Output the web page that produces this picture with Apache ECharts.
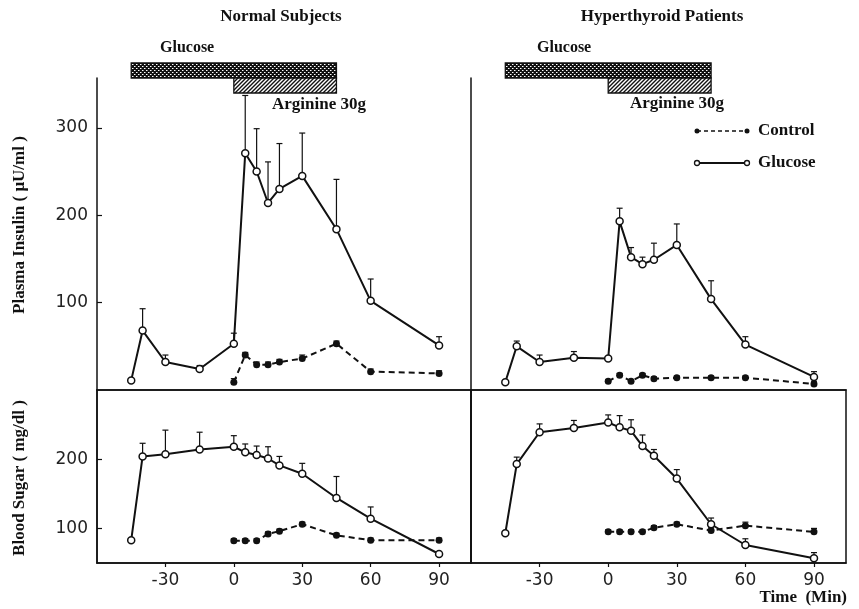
<!DOCTYPE html>
<html><head><meta charset="utf-8">
<script src="https://cdn.jsdelivr.net/npm/echarts@6/dist/echarts.min.js"></script>
<style>html,body{margin:0;padding:0;background:#fff}#c{width:859px;height:609px}</style>
</head><body><div id="c"></div>
<script>
// ---- data ----
const timeGlucose = [-45, -40, -30, -15, 0, 5, 10, 15, 20, 30, 45, 60, 90];
const timeControl = [0, 5, 10, 15, 20, 30, 45, 60, 90];
const xTickValues = [-30, 0, 30, 60, 90];
const insulinTicks = [100, 200, 300];
const sugarTicks = [100, 200];
const glucoseInfusion = [-45, 45];
const arginineInfusion = [0, 45];

// Plasma insulin, normal subjects
const insNormGlu = [11, 68, 32, 24, 53, 271, 250, 214, 230, 245, 184, 102, 51];
const insNormGluSE = [0, 25, 8, 4, 12, 66, 49, 47, 52, 49, 57, 25, 10];
const insNormCtl = [9, 40, 29, 29, 32, 36, 53, 21, 19];
const insNormCtlSE = [4, 3, 3, 3, 3, 4, 3, 3, 3];
// Plasma insulin, hyperthyroid patients
const insHypGlu = [9, 50, 32, 37, 36, 193, 152, 144, 149, 166, 104, 52, 15];
const insHypGluSE = [0, 6, 8, 7, 0, 15, 11, 8, 19, 24, 21, 9, 6];
const insHypCtl = [10, 17, 10, 17, 13, 14, 14, 14, 7];
const insHypCtlSE = [2, 2, 2, 2, 2, 2, 2, 2, 3];
// Blood sugar, normal subjects
const bsNormGlu = [83, 204, 207, 214, 218, 210, 206, 201, 191, 179, 144, 114, 63];
const bsNormGluSE = [0, 19, 35, 25, 16, 12, 13, 17, 13, 15, 31, 17, 0];
const bsNormCtl = [82, 82, 82, 92, 96, 106, 90, 83, 83];
const bsNormCtlSE = [3, 3, 3, 3, 3, 3, 3, 3, 3];
// Blood sugar, hyperthyroid patients
const bsHypGlu = [93, 193, 239, 245, 253, 246, 241, 219, 205, 172, 106, 76, 57];
const bsHypGluSE = [0, 10, 12, 11, 11, 17, 16, 16, 9, 13, 9, 9, 8];
const bsHypCtl = [95, 95, 95, 95, 101, 106, 97, 104, 95];
const bsHypCtlSE = [3, 3, 3, 3, 3, 3, 4, 5, 5];

// ---- helpers ----
const INK = '#111';
const SERIF = '"Liberation Serif", "DejaVu Serif", serif';
const SANS = '"DejaVu Sans", sans-serif';

function mkPattern(kind) {
  const s = 4;
  const c = document.createElement('canvas');
  c.width = s; c.height = s;
  const g = c.getContext('2d');
  if (kind === 'cross') {
    g.fillStyle = INK; g.fillRect(0, 0, s, s);
    g.fillStyle = '#fff';
    g.fillRect(0, 0, 1, 1);
    g.fillRect(2, 2, 1, 1);
    g.fillStyle = '#888';
    g.fillRect(1, 0, 1, 1);
    g.fillRect(3, 2, 1, 1);
  } else {
    g.fillStyle = '#fff'; g.fillRect(0, 0, s, s);
    g.strokeStyle = INK; g.lineWidth = 1.4;
    g.beginPath();
    g.moveTo(-1, s + 1); g.lineTo(s + 1, -1);
    g.moveTo(-1, 1); g.lineTo(1, -1);
    g.moveTo(s - 1, s + 1); g.lineTo(s + 1, s - 1);
    g.stroke();
  }
  return { image: c, repeat: 'repeat' };
}
const crossPat = mkPattern('cross');
const hatchPat = mkPattern('hatch');

function zip(t, v) { return t.map((x, i) => [x, v[i]]); }
function zip3(t, v, e) { return t.map((x, i) => [x, v[i], e[i]]); }

function errRender(params, api) {
  const t = api.value(0), v = api.value(1), e = api.value(2);
  if (!e) return { type: 'group', children: [] };
  const p0 = api.coord([t, v]);
  const p1 = api.coord([t, v + e]);
  return {
    type: 'group', children: [
      { type: 'line', shape: { x1: p0[0], y1: p0[1], x2: p1[0], y2: p1[1] }, style: { stroke: INK, lineWidth: 1.2 } },
      { type: 'line', shape: { x1: p1[0] - 3, y1: p1[1], x2: p1[0] + 3, y2: p1[1] }, style: { stroke: INK, lineWidth: 1.2 } }
    ]
  };
}

function infusionRender(params, api) {
  const cs = params.coordSys;
  const x0 = api.coord([api.value(0), 0])[0];
  const x1 = api.coord([api.value(1), 0])[0];
  const k = api.value(2);
  const y = k === 0 ? cs.y - 15 : cs.y;
  return {
    type: 'rect',
    shape: { x: x0, y: y, width: x1 - x0, height: 15 },
    style: { fill: k === 0 ? crossPat : hatchPat, stroke: INK, lineWidth: 1.3 }
  };
}

function panelSeries(idx, glu, gluSE, ctl, ctlSE) {
  return [
    { type: 'custom', xAxisIndex: idx, yAxisIndex: idx, renderItem: errRender, data: zip3(timeGlucose, glu, gluSE), encode: { x: 0, y: 1 }, z: 1, clip: false, silent: true },
    { type: 'custom', xAxisIndex: idx, yAxisIndex: idx, renderItem: errRender, data: zip3(timeControl, ctl, ctlSE), encode: { x: 0, y: 1 }, z: 1, clip: false, silent: true },
    { type: 'line', xAxisIndex: idx, yAxisIndex: idx, data: zip(timeControl, ctl), symbol: 'circle', symbolSize: 7,
      lineStyle: { color: INK, width: 2, type: [6, 4] }, itemStyle: { color: INK }, z: 2, animation: false },
    { type: 'line', xAxisIndex: idx, yAxisIndex: idx, data: zip(timeGlucose, glu), symbol: 'circle', symbolSize: 7,
      lineStyle: { color: INK, width: 2 }, itemStyle: { color: '#fff', borderColor: INK, borderWidth: 1.5 }, z: 3, animation: false }
  ];
}

const gridsDef = [
  { left: 97, top: 78, width: 374, height: 312 },
  { left: 471, top: 78, width: 375, height: 312 },
  { left: 97, top: 390, width: 374, height: 173 },
  { left: 471, top: 390, width: 375, height: 173 }
];

function xAxis(i) {
  const bottom = i >= 2;
  return {
    type: 'value', gridIndex: i, min: -60, max: 104, interval: 30,
    splitLine: { show: false },
    axisLine: { show: true, onZero: false, lineStyle: { color: INK, width: 1.5 } },
    axisTick: { show: bottom, inside: false, length: 4, customValues: xTickValues, lineStyle: { color: INK, width: 1.2 } },
    axisLabel: { show: bottom, customValues: xTickValues, margin: 9, fontFamily: SANS, fontSize: 17, color: '#222',
      formatter: v => (v < 0 ? '-' + Math.abs(v) : String(v)) }
  };
}
function yAxis(i) {
  const top = i < 2;
  const left = i % 2 === 0;
  const ticks = top ? insulinTicks : sugarTicks;
  return {
    type: 'value', gridIndex: i,
    min: top ? 0 : 50, max: top ? 357 : 300, interval: 50,
    splitLine: { show: false },
    axisLine: { show: true, onZero: false, lineStyle: { color: INK, width: 1.5 } },
    axisTick: { show: left, inside: true, length: 5, customValues: ticks, lineStyle: { color: INK, width: 1.2 } },
    axisLabel: { show: left, customValues: ticks, margin: 9, fontFamily: SANS, fontSize: 17, color: '#222' }
  };
}

const txt = (x, y, text, size, align, extra) => Object.assign({
  type: 'text', x: x, y: y, silent: true,
  style: { text: text, font: 'bold ' + size + 'px ' + SERIF, fill: INK, align: align || 'left', verticalAlign: 'middle' }
}, extra || {});

const option = {
  animation: false,
  backgroundColor: '#fff',
  grid: gridsDef.map((g, i) => Object.assign({}, g, i >= 2 ? { show: true, borderColor: INK, borderWidth: 1.5 } : { show: false })),
  xAxis: [0, 1, 2, 3].map(xAxis),
  yAxis: [0, 1, 2, 3].map(yAxis),
  series: [].concat(
    [
      { type: 'custom', xAxisIndex: 0, yAxisIndex: 0, renderItem: infusionRender, clip: false, silent: true, encode: { x: [0, 1] },
        data: [[glucoseInfusion[0], glucoseInfusion[1], 0], [arginineInfusion[0], arginineInfusion[1], 1]] },
      { type: 'custom', xAxisIndex: 1, yAxisIndex: 1, renderItem: infusionRender, clip: false, silent: true, encode: { x: [0, 1] },
        data: [[glucoseInfusion[0], glucoseInfusion[1], 0], [arginineInfusion[0], arginineInfusion[1], 1]] }
    ],
    panelSeries(0, insNormGlu, insNormGluSE, insNormCtl, insNormCtlSE),
    panelSeries(1, insHypGlu, insHypGluSE, insHypCtl, insHypCtlSE),
    panelSeries(2, bsNormGlu, bsNormGluSE, bsNormCtl, bsNormCtlSE),
    panelSeries(3, bsHypGlu, bsHypGluSE, bsHypCtl, bsHypCtlSE)
  ),
  graphic: [
    txt(281, 17, 'Normal Subjects', 17, 'center'),
    txt(662, 17, 'Hyperthyroid Patients', 17, 'center'),
    txt(160, 48, 'Glucose', 16),
    txt(537, 48, 'Glucose', 16),
    txt(272, 105, 'Arginine 30g', 17),
    txt(630, 104, 'Arginine 30g', 17),
    txt(20, 225, 'Plasma Insulin ( μU/ml )', 17, 'center', { rotation: Math.PI / 2 }),
    txt(20, 478, 'Blood Sugar ( mg/dl )', 17, 'center', { rotation: Math.PI / 2 }),
    txt(847, 598, 'Time  (Min)', 17, 'right'),
    // legend
    { type: 'line', silent: true, shape: { x1: 697, y1: 131, x2: 747, y2: 131 }, style: { stroke: INK, lineWidth: 1.5, lineDash: [4, 3] } },
    { type: 'circle', silent: true, shape: { cx: 697, cy: 131, r: 2.5 }, style: { fill: INK } },
    { type: 'circle', silent: true, shape: { cx: 747, cy: 131, r: 2.5 }, style: { fill: INK } },
    txt(758, 131, 'Control', 17),
    { type: 'line', silent: true, shape: { x1: 697, y1: 163, x2: 747, y2: 163 }, style: { stroke: INK, lineWidth: 1.8 } },
    { type: 'circle', silent: true, shape: { cx: 697, cy: 163, r: 2.5 }, style: { fill: '#fff', stroke: INK, lineWidth: 1.3 } },
    { type: 'circle', silent: true, shape: { cx: 747, cy: 163, r: 2.5 }, style: { fill: '#fff', stroke: INK, lineWidth: 1.3 } },
    txt(758, 163, 'Glucose', 17)
  ]
};

const chart = echarts.init(document.getElementById('c'), null, { renderer: 'canvas' });
chart.setOption(option);
</script>
</body></html>
